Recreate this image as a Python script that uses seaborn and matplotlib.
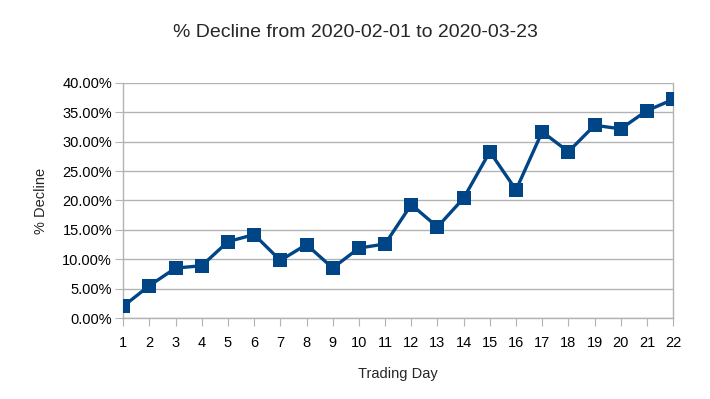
import pandas as pd
import matplotlib
matplotlib.use("Agg")
import matplotlib.pyplot as plt
import seaborn as sns
from matplotlib.ticker import PercentFormatter, MultipleLocator

# values
trading_day = list(range(1, 23))
pct_decline = [2.0, 5.5, 8.5, 8.9, 13.0, 14.2, 9.8, 12.5, 8.5, 11.9, 12.6,
               19.3, 15.5, 20.4, 28.3, 21.8, 31.7, 28.3, 32.8, 32.2, 35.3, 37.2]

df = pd.DataFrame({"Trading Day": trading_day, "% Decline": pct_decline})

sns.set_style("white")
plt.rcParams['font.family'] = ['Liberation Sans', 'DejaVu Sans']

fig = plt.figure(figsize=(7.1, 3.99), dpi=100)
ax = fig.add_axes([0.1735, 0.203, 0.7746, 0.589])

sns.lineplot(data=df, x="Trading Day", y="% Decline", ax=ax, color="#004586",
             linewidth=2.4, marker="s", markersize=10, markeredgewidth=0,
             errorbar=None, zorder=3)

ax.set_xlim(1, 22)
ax.set_ylim(0, 40)
ax.xaxis.set_major_locator(MultipleLocator(1))
ax.yaxis.set_major_locator(MultipleLocator(5))
ax.yaxis.set_major_formatter(PercentFormatter(100, decimals=2))
ax.grid(axis="y", color="#b3b3b3", linewidth=1)
ax.set_axisbelow(True)

for side in ["left", "bottom", "right"]:
    ax.spines[side].set_color("#b3b3b3")
    ax.spines[side].set_linewidth(1)
ax.spines["top"].set_visible(False)

ax.tick_params(axis="both", which="major", direction="out", length=6,
               color="#b3b3b3", labelsize=10.5, labelcolor="black",
               bottom=True, left=True)
ax.tick_params(axis="x", pad=7)
ax.tick_params(axis="y", pad=2)

ax.set_xlabel("Trading Day", fontsize=10.5, labelpad=12)
ax.set_ylabel("% Decline", fontsize=10.5, labelpad=10)
fig.suptitle("% Decline from 2020-02-01 to 2020-03-23", fontsize=14, y=0.94)

fig.savefig("out.png", dpi=100)
